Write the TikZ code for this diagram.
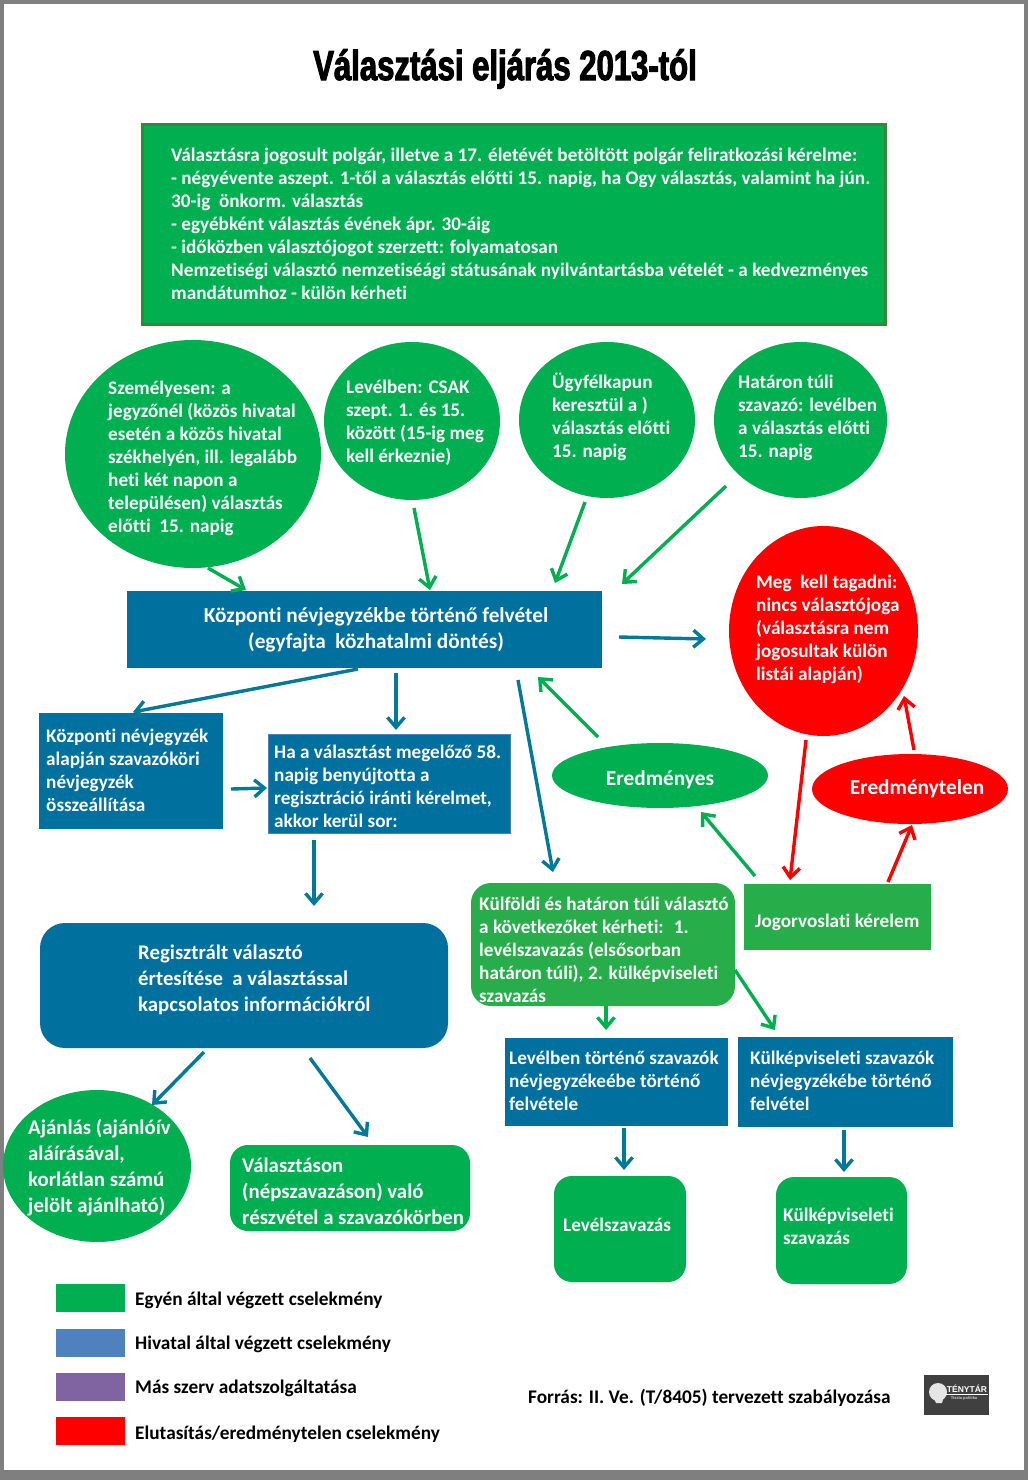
\documentclass[tikz,border=0pt]{standalone}
\usepackage{fontspec}
\setmainfont{Carlito}[BoldFont=Carlito Bold,Ligatures=NoCommon]
\newfontfamily\titlef{Liberation Sans Bold}[FakeStretch=0.74,FakeBold=2.4]
\newfontfamily\logof{Liberation Sans Bold}
\usetikzlibrary{arrows.meta,shapes.geometric}
\definecolor{gA}{HTML}{00B050}
\definecolor{gB}{HTML}{27AE4B}
\definecolor{gE}{HTML}{38863A}
\definecolor{bA}{HTML}{00709F}
\definecolor{tA}{HTML}{007A96}
\definecolor{leg}{HTML}{4F81BD}
\definecolor{lil}{HTML}{8064A2}
\definecolor{fr}{HTML}{7F7F7F}
\tikzset{
 txt/.style={anchor=north west,inner sep=0pt,align=left,text=white,yshift=-2.5pt,font=\fontsize{19.2}{23}\selectfont\bfseries,execute at begin node=\strut},
 txtb/.style={txt,font=\fontsize{20.8}{26}\selectfont\bfseries},
 ctxt/.style={anchor=center,inner sep=0pt,align=center,text=white,font=\fontsize{21.3}{26}\selectfont\bfseries},
 ltxt/.style={anchor=west,inner sep=0pt,text=black,font=\fontsize{19.3}{23}\selectfont\bfseries},
 ell/.style={ellipse,draw=none,inner sep=0pt,fill=gA},
 box/.style={rectangle,draw=none,inner sep=0pt,fill=bA},
 rbox/.style={rectangle,rounded corners=18pt,draw=none,inner sep=0pt,fill=gA},
 swatch/.style={rectangle,draw=none,inner sep=0pt,minimum width=69pt,minimum height=28pt},
 arr/.style={line width=3.4pt,-{Straight Barb[length=10pt,width=17pt,line width=3.4pt]}},
 ga/.style={arr,draw=gA},
 ba/.style={arr,draw=tA},
 ra/.style={arr,draw=red},
}
\newcommand\conn[7]{\draw[#1] ([shift={(#3,#4)}]#2.center) -- ([shift={(#6,#7)}]#5.center);}
\begin{document}
\begin{tikzpicture}[x=1pt,y=-1pt]
\useasboundingbox (0,0) rectangle (1028,1480);
\fill[fr] (0,0) rectangle (1028,1480);
\fill[white] (4,4) rectangle (1024,1470);
\node[anchor=center,inner sep=0pt,font=\fontsize{42}{46}\selectfont\titlef] (title) at (505,69) {Választási eljárás 2013-tól};

% Main green box
\node[box,fill=gA,draw=gE,line width=3pt,minimum width=743pt,minimum height=200pt] (top) at (514,224.5) {};
\node[txt] (topt) at (171,145) {Választásra jogosult polgár, illetve a 17. életévét betöltött polgár feliratkozási kérelme:\\- négyévente aszept. 1-től a választás előtti 15. napig, ha Ogy választás, valamint ha jún.\\30-ig~ önkorm. választás\\- egyébként választás évének ápr. 30-áig\\- időközben választójogot szerzett: folyamatosan\\Nemzetiségi választó nemzetiséági státusának nyilvántartásba vételét - a kedvezményes\\mandátumhoz - külön kérheti};

% Ellipses
\node[ell,minimum width=256pt,minimum height=228pt] (elS) at (193,454) {};
\node[txt] (elSt) at (108,378) {Személyesen: a\\jegyzőnél (közös hivatal\\esetén a közös hivatal\\székhelyén, ill. legalább\\heti két napon a\\településen) választás\\előtti~ 15. napig};
\node[ell,minimum width=176pt,minimum height=158pt] (elL) at (412,421) {};
\node[txt] (elLt) at (346,377) {Levélben: CSAK\\szept. 1. és 15.\\között (15-ig meg\\kell érkeznie)};
\node[ell,minimum width=176pt,minimum height=156pt] (elU) at (607,420) {};
\node[txt] (elUt) at (552,370) {Ügyfélkapun\\keresztül a )\\választás előtti\\15. napig};
\node[ell,minimum width=173pt,minimum height=156pt] (elH) at (800.5,420) {};
\node[txt] (elHt) at (738,372) {Határon túli\\szavazó: levélben\\a választás előtti\\15. napig};
\node[ell,fill=red,minimum width=189pt,minimum height=210pt] (elR) at (823.5,631) {};
\node[txt] (elRt) at (756,572) {Meg~ kell tagadni:\\nincs választójoga\\(választásra nem\\jogosultak külön\\listái alapján)};

% Central box
\node[box,minimum width=475pt,minimum height=77pt] (kozp) at (364.5,629.5) {};
\node[ctxt] (kozpt) at (376,630) {Központi névjegyzékbe történő felvétel\\(egyfajta~ közhatalmi döntés)};

% Blue boxes
\node[box,minimum width=184pt,minimum height=116pt] (bK) at (131,771) {};
\node[txt] (bKt) at (46,726) {Központi névjegyzék\\alapján szavazóköri\\névjegyzék\\összeállítása};
\node[box,draw=leg,line width=1.5pt,minimum width=242pt,minimum height=99pt] (bH) at (389.5,784) {};
\node[txt] (bHt) at (274,742) {Ha a választást megelőző 58.\\napig benyújtotta a\\regisztráció iránti kérelmet,\\akkor kerül sor:};
\node[box,rounded corners=25pt,minimum width=408pt,minimum height=125pt] (reg) at (244,985.5) {};
\node[txtb] (regt) at (138,942) {Regisztrált választó\\értesítése~ a választással\\kapcsolatos információkról};

% Result ellipses
\node[ell,minimum width=216pt,minimum height=65pt] (eredm) at (660,775.5) {};
\node[ctxt] (eredmt) at (660,780) {Eredményes};
\node[ell,fill=red,minimum width=196pt,minimum height=70pt] (eredt) at (910,789) {};
\node[ctxt] (eredtt) at (917,789) {Eredménytelen};

% Jogorvoslat, Külföldi
\node[box,fill=gB,minimum width=187pt,minimum height=66pt] (jog) at (837.5,917) {};
\node[txt] (jogt) at (755,908.5) {Jogorvoslati kérelem};
\node[rbox,fill=gB,rounded corners=20pt,minimum width=264pt,minimum height=123pt] (kulf) at (603,944.5) {};
\node[txt] (kulft) at (479,894) {Külföldi és határon túli választó\\a következőket kérheti:~ 1.\\levélszavazás (elsősorban\\határon túli), 2. külképviseleti\\szavazás};

% Lower boxes
\node[box,minimum width=223pt,minimum height=88pt] (lev) at (616.5,1082) {};
\node[txt] (levt) at (509,1048) {Levélben történő szavazók\\névjegyzékeébe történő\\felvétele};
\node[box,minimum width=215pt,minimum height=90pt] (kulk) at (845.5,1082) {};
\node[txt] (kulkt) at (750,1048) {Külképviseleti szavazók\\névjegyzékébe történő\\felvétel};
\node[rbox,minimum width=132pt,minimum height=106pt] (levsz) at (620,1229) {};
\node[txt] (levszt) at (563,1213) {Levélszavazás};
\node[rbox,minimum width=131pt,minimum height=107pt] (kulksz) at (841.5,1230.5) {};
\node[txt] (kulkszt) at (783,1205) {Külképviseleti\\szavazás};
\node[ell,minimum width=188pt,minimum height=152pt] (aj) at (97,1166) {};
\node[txtb] (ajt) at (28,1116) {Ajánlás (ajánlóív\\aláírásával,\\korlátlan számú\\jelölt ajánlható)};
\node[rbox,minimum width=240pt,minimum height=86pt] (val) at (350,1188) {};
\node[txtb] (valt) at (242,1155) {Választáson\\(népszavazáson) való\\részvétel a szavazókörben};

% Legend
\node[swatch,fill=gA] (l1) at (90.5,1298) {};
\node[swatch,fill=leg] (l2) at (90.5,1343) {};
\node[swatch,fill=lil] (l3) at (90.5,1387) {};
\node[swatch,fill=red] (l4) at (90.5,1431) {};
\node[ltxt] (l1t) at (135,1300.5) {Egyén által végzett cselekmény};
\node[ltxt] (l2t) at (135,1344.5) {Hivatal által végzett cselekmény};
\node[ltxt] (l3t) at (135,1388.5) {Más szerv adatszolgáltatása};
\node[ltxt] (l4t) at (135,1434.5) {Elutasítás/eredménytelen cselekmény};
\node[ltxt] (src) at (528,1397.5) {Forrás: II. Ve. (T/8405) tervezett szabályozása};

% Logo
\node[box,fill=black!75,minimum width=65pt,minimum height=40pt] (logo) at (956.5,1395) {};
\fill[white!90!black] (938,1392) ellipse (9pt and 9pt);
\fill[white!90!black] (933,1396) -- (944,1396) -- (942,1403) -- (936,1403) -- cycle;
\draw[white,line width=0.8pt] (945,1394) -- (988,1394);
\node[anchor=center,inner sep=0pt,text=white,font=\fontsize{8.5}{9}\selectfont\logof] (logot) at (967,1389) {TÉNYTÁR};
\node[anchor=center,inner sep=0pt,text=white!80!black,font=\fontsize{4}{5}\selectfont\logof] (logos) at (964,1398) {Tiszta politika};

% Connectors
\conn{ga}{elS}{15}{114}{kozp}{-118.5}{-39.5}
\conn{ga}{elL}{2}{87}{kozp}{65.5}{-39.5}
\conn{ga}{elU}{-22}{82}{kozp}{190.5}{-46.5}
\conn{ga}{elH}{-74.5}{66}{kozp}{257.5}{-45.5}
\conn{ba}{kozp}{254.5}{7.5}{elR}{-117.5}{8}
\conn{ba}{kozp}{-6.5}{39.5}{bK}{2}{-59}
\conn{ba}{kozp}{31.5}{43.5}{bH}{6.5}{-54}
\conn{ba}{bK}{100}{18}{bH}{-122.5}{4}
\conn{ba}{bH}{-75.5}{56}{reg}{70}{-79.5}
\conn{ba}{kozp}{153.5}{50.5}{kulf}{-50}{-72.5}
\conn{ga}{eredm}{-62}{-38.5}{kozp}{173.5}{47.5}
\conn{ga}{jog}{-82.5}{-41}{eredm}{41}{36.5}
\conn{ra}{elR}{-17.5}{109}{jog}{-47.5}{-37}
\conn{ra}{jog}{50.5}{-35}{eredt}{2}{36}
\conn{ra}{eredt}{4}{-39}{elR}{80.5}{65}
\conn{ga}{kulf}{3}{61.5}{lev}{-10.5}{-52}
\conn{ga}{kulf}{132}{25.5}{kulk}{-70.5}{-52}
\conn{ba}{lev}{7.5}{46}{levsz}{4}{-59}
\conn{ba}{kulk}{-1.5}{48}{kulksz}{2.5}{-58.5}
\conn{ba}{reg}{-40}{66.5}{aj}{55}{-61}
\conn{ba}{reg}{66}{72.5}{val}{18}{-51}
\end{tikzpicture}
\end{document}
